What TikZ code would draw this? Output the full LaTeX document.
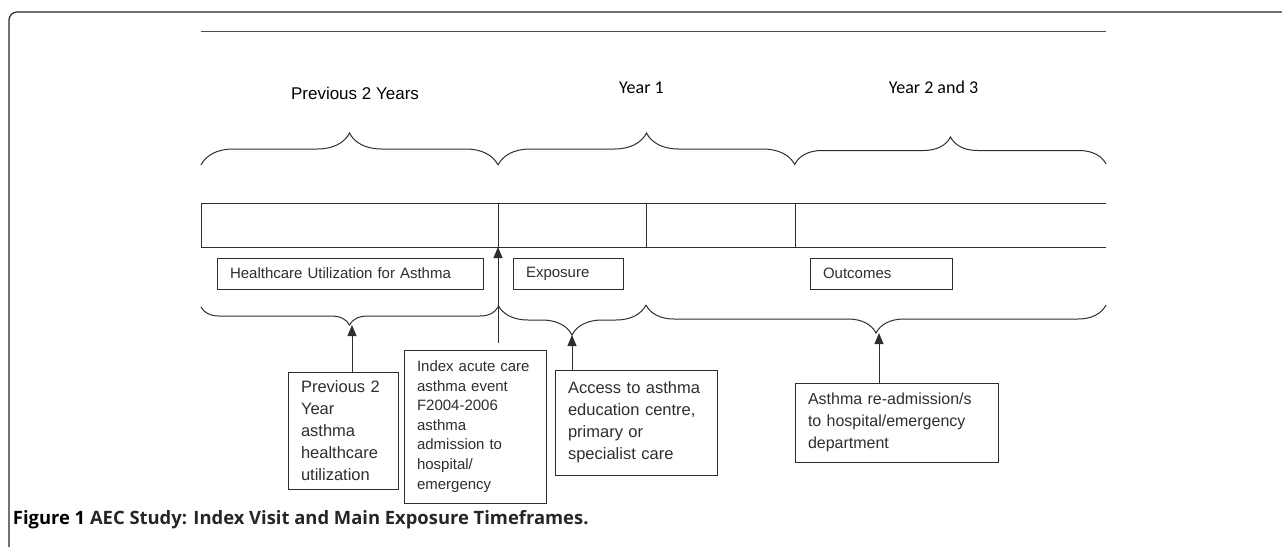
\documentclass[tikz,border=0pt]{standalone}
\usepackage{fontspec}
\setmainfont{Liberation Sans}
\newfontfamily\calfont{Carlito}
\newfontfamily\capfont{Open Sans}
\usetikzlibrary{arrows.meta,decorations.pathreplacing}
\begin{document}
\begin{tikzpicture}[x=1pt, y=-1pt,
    frameline/.style={line width=1.2pt, black!85},
    tline/.style={line width=1pt, black!82},
    curly/.style={tline, decorate, decoration={brace, amplitude=#1}},
    tagbox/.style={draw, tline, inner xsep=13pt, inner ysep=0pt, align=left},
    uparrow/.style={tline, -{Triangle[length=11pt,width=9pt]}}]
  \useasboundingbox (0,0) rectangle (1282,547);
  \draw[frameline, rounded corners=8pt] (9,547) -- (9,12) -- (1282,12);
  \draw[line width=0.8pt, black!70] (201,31) -- (1106,31);

  \node[anchor=base, font=\fontsize{17}{20}\selectfont] (prevyears) at (355,99) {Previous 2 Years};
  \node[anchor=base, font=\calfont\fontsize{18}{20}\selectfont] (yearone) at (641.5,93) {Year 1};
  \node[anchor=base, font=\calfont\fontsize{18}{20}\selectfont] (yeartwo) at (933.5,93) {Year 2 and 3};

  \draw[curly=32pt] (201,165) -- (498,165);
  \draw[curly=32pt] (498,165) -- (795,165);
  \draw[curly=27pt] (795,164) -- (1106,164);

  \draw[tline] (1106,203) -- (201,203) -- (201,247) -- (1106,247);
  \foreach \x in {498,646,795}
    \draw[tline] (\x,203) -- (\x,247);
  \coordinate (index) at (498,247);

  \node[tagbox, text width=240pt, minimum height=31pt, font=\fontsize{15}{18}\selectfont] (usebox) at (350,273.5) {Healthcare Utilization for Asthma};
  \node[tagbox, text width=84pt, minimum height=31pt, font=\fontsize{15}{18}\selectfont] (expbox) at (568,273.5) {Exposure};
  \node[tagbox, text width=116pt, minimum height=31pt, font=\fontsize{15}{18}\selectfont] (outbox) at (881,273.5) {Outcomes};

  \draw[curly=18pt] (498,307) -- (201,307);
  \draw[curly=30pt] (646,305) -- (498,305);
  \draw[curly=28pt] (1106,305) -- (646,305);
  \coordinate (prevtip) at (352,325);
  \coordinate (exptip) at (572,335);
  \coordinate (outtip) at (879,333);
  \coordinate (indexfoot) at (498,343);

  \node[tagbox, text width=84pt, minimum height=117pt, font=\fontsize{16.5}{22}\selectfont] (prevnote) at (343,430.5) {Previous 2\\Year\\asthma\\healthcare\\utilization};
  \node[tagbox, text width=116pt, minimum height=153pt, font=\fontsize{15}{19.6}\selectfont] (indexnote) at (475,426.5) {Index acute care\\asthma event\\F2004-2006\\asthma\\admission to\\hospital/\\emergency};
  \node[tagbox, text width=136pt, minimum height=105pt, font=\fontsize{16.5}{22}\selectfont] (accessnote) at (636,422.5) {Access to asthma\\education centre,\\primary or\\specialist care};
  \node[tagbox, text width=177pt, minimum height=79pt, font=\fontsize{16}{22}\selectfont] (readmitnote) at (896.5,422.5) {Asthma re-admission/s\\to hospital/emergency\\department};

  \draw[uparrow] (prevnote.north -| prevtip) -- (prevtip);
  \draw[uparrow] (indexfoot) -- (index);
  \draw[uparrow] (accessnote.north -| exptip) -- (exptip);
  \draw[uparrow] (readmitnote.north -| outtip) -- (outtip);

  \node[anchor=base west, inner sep=0pt, font=\capfont\bfseries\fontsize{18.4}{20}\selectfont, black!85] (caption) at (12.7,524) {\textcolor{black}{Figure 1} AEC Study: Index Visit and Main Exposure Timeframes.};
\end{tikzpicture}
\end{document}
